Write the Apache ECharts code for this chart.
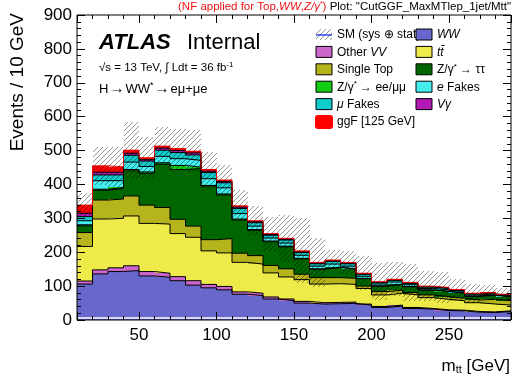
<!DOCTYPE html>
<html>
<head>
<meta charset="utf-8">
<script src="https://cdn.jsdelivr.net/npm/echarts@6/dist/echarts.min.js"></script>
<style>
  html, body { margin: 0; padding: 0; background: #fff; }
  #chart { width: 514px; height: 381px; }
</style>
</head>
<body>
<div id="chart"></div>
<script>
// bin low edges in GeV (10 GeV bins), upper edge of the last bin
const binLow = [10, 20, 30, 40, 50, 60, 70, 80, 90, 100, 110, 120, 130, 140, 150, 160, 170, 180, 190, 200, 210, 220, 230, 240, 250, 260, 270, 280];
const lastEdge = 290;

// events per bin, stacked bottom to top
const ww = [106, 136, 143, 146, 130, 126, 116, 103, 95, 89, 76, 72, 62, 57, 50, 47, 48, 49, 44, 37, 41, 34, 32, 28, 27, 23, 22, 25];
const otherVV = [9, 12, 11, 14, 13, 12, 12, 13, 10, 10, 7, 7, 6, 5, 5, 4, 4, 4, 3, 3, 3, 3, 2, 2, 2, 2, 2, 2];
const ttbar = [102, 150, 146, 147, 142, 145, 127, 128, 99, 99, 87, 86, 71, 65, 64, 55, 55, 52, 46, 34, 35, 37, 32, 31, 28, 26, 23, 17];
const singleTop = [41, 56, 57, 59, 54, 49, 42, 33, 33, 42, 27, 25, 22, 24, 16, 19, 18, 18, 7, 10, 9, 7, 8, 8, 7, 8, 14, 13];
const zTauTau = [20, 29, 31, 74, 94, 128, 147, 170, 156, 129, 98, 75, 70, 65, 45, 25, 30, 27, 22, 16, 17, 17, 14, 15, 15, 11, 12, 11];
const zEeMuMu = [3, 3, 3, 4, 4, 4, 12, 4, 4, 3, 3, 2, 2, 2, 2, 1, 1, 1, 1, 1, 1, 1, 1, 1, 1, 1, 1, 1];
const eFakes = [12, 25, 20, 22, 16, 19, 20, 20, 20, 18, 16, 10, 9, 9, 9, 8, 9, 8, 6, 5, 6, 5, 4, 4, 4, 3, 3, 3];
const muFakes = [12, 17, 17, 20, 16, 18, 18, 16, 18, 15, 15, 10, 8, 9, 8, 7, 8, 7, 6, 4, 5, 4, 4, 4, 3, 3, 3, 2];
const vGamma = [10, 8, 8, 6, 4, 6, 6, 6, 4, 4, 4, 3, 2, 2, 2, 2, 2, 2, 1, 1, 1, 1, 1, 1, 1, 1, 1, 1];
const ggF = [24, 19, 16, 9, 6, 6, 6, 5, 5, 4, 4, 3, 3, 3, 3, 2, 2, 2, 2, 2, 2, 2, 2, 2, 2, 1, 1, 1];
// SM uncertainty (sys + stat), half width of the hatched band
const smErr = [35, 56, 59, 84, 62, 57, 59, 62, 53, 44, 46, 44, 50, 69, 96, 72, 30, 35, 50, 55, 50, 55, 45, 45, 30, 28, 21, 17];

const yTicks = [0, 100, 200, 300, 400, 500, 600, 700, 800, 900];

const stackNames = ['WW', 'Other VV', 'tt\u0304', 'Single Top', 'Z/\u03b3* \u2192 \u03c4\u03c4', 'Z/\u03b3* \u2192 ee/\u03bc\u03bc', 'e Fakes', '\u03bc Fakes', 'V\u03b3', 'ggF [125 GeV]'];
const stackColors = ['#6767cc', '#cc66cc', '#eeea4a', '#b5b41c', '#006600', '#11cc11', '#44eeee', '#11cccc', '#b419b4', '#ff0000'];
const stackValues = [ww, otherVV, ttbar, singleTop, zTauTau, zEeMuMu, eFakes, muFakes, vGamma, ggF];

const FONT = 'Liberation Sans, Arial, sans-serif';
const edges = [...binLow, lastEdge];

// running sums so each component sits on the ones below it
const cumTops = [];
stackValues.forEach((vals, k) => {
  cumTops.push(vals.map((v, i) => v + (k > 0 ? cumTops[k - 1][i] : 0)));
});
const smTotal = cumTops[cumTops.length - 1];

// hatch pattern for the uncertainty band
const hatch = document.createElement('canvas');
hatch.width = 5;
hatch.height = 5;
const hctx = hatch.getContext('2d');
hctx.strokeStyle = 'rgba(0,0,0,0.42)';
hctx.lineWidth = 1;
hctx.beginPath();
hctx.moveTo(0, 5); hctx.lineTo(5, 0);
hctx.moveTo(-1, 1); hctx.lineTo(1, -1);
hctx.moveTo(4, 6); hctx.lineTo(6, 4);
hctx.stroke();
const hatchFill = { image: hatch, repeat: 'repeat' };

const chart = echarts.init(document.getElementById('chart'), null, { renderer: 'canvas' });

// one rectangle per bin, snapped to whole pixels so neighbours don't leave seams
const binRect = (fill) => (params, api) => {
  const p1 = api.coord([api.value(0), api.value(3)]);
  const p2 = api.coord([api.value(1), api.value(2)]);
  const x0 = Math.round(p1[0]);
  const x1 = Math.round(p2[0]);
  const y0 = Math.round(p1[1]);
  const y1 = Math.round(p2[1]);
  return {
    type: 'rect',
    shape: { x: x0, y: y0, width: x1 - x0, height: y1 - y0 },
    style: { fill },
  };
};

const fillSeries = stackValues.map((vals, k) => ({
  type: 'custom',
  name: stackNames[k],
  data: binLow.map((lo, i) => [lo, edges[i + 1], k > 0 ? cumTops[k - 1][i] : 0, cumTops[k][i]]),
  encode: { x: [0, 1], y: [2, 3] },
  silent: true,
  z: 2,
  renderItem: binRect(stackColors[k]),
}));

// step outline on top of each component
const outlineSeries = cumTops.map((tops, k) => ({
  type: 'line',
  name: stackNames[k] + ' outline',
  step: 'end',
  data: edges.map((x, i) => [x, tops[Math.min(i, tops.length - 1)]]),
  symbol: 'none',
  silent: true,
  lineStyle: { color: k === cumTops.length - 1 ? '#ff0000' : '#000', width: 1 },
  z: 3,
}));

const bandSeries = {
  type: 'custom',
  name: 'SM (sys \u2295 stat)',
  data: binLow.map((lo, i) => [lo, edges[i + 1], smTotal[i] - smErr[i], smTotal[i] + smErr[i]]),
  encode: { x: [0, 1], y: [2, 3] },
  silent: true,
  z: 4,
  renderItem: binRect(hatchFill),
};

// legend drawn ROOT style, two columns row by row
const legendEntries = [
  { name: 'SM (sys \u2295 stat)', kind: 'band' },
  { name: '{i|WW}', color: stackColors[0] },
  { name: 'Other {i|VV}', color: stackColors[1] },
  { name: '{i|tt\u0304}', color: stackColors[2] },
  { name: 'Single Top', color: stackColors[3] },
  { name: 'Z/\u03b3{s|*} \u2192 \u03c4\u03c4', color: stackColors[4] },
  { name: 'Z/\u03b3{s|*} \u2192 ee/\u03bc\u03bc', color: stackColors[5] },
  { name: '{i|e} Fakes', color: stackColors[6] },
  { name: '{i|\u03bc} Fakes', color: stackColors[7] },
  { name: '{i|V\u03b3}', color: stackColors[8] },
  { name: 'ggF [125 GeV]', color: stackColors[9], kind: 'signal' },
];
const legendTexts = [];
const legendBoxes = [];
legendEntries.forEach((e, idx) => {
  const col = idx % 2;
  const row = Math.floor(idx / 2);
  const bx = col === 0 ? 316 : 416;
  const cy = 35 + row * 17.4;
  legendTexts.push({
    type: 'text', x: bx + 21, y: cy, z: 20,
    style: {
      text: e.name, fill: '#000', font: '12px ' + FONT, verticalAlign: 'middle',
      rich: {
        i: { fontStyle: 'italic', fontSize: 12, fontFamily: FONT },
        s: { fontSize: 8, fontFamily: FONT, padding: [0, 0, 7, 0] },
      },
    },
  });
  if (e.kind === 'band') {
    legendBoxes.push({ type: 'rect', z: 21, shape: { x: bx, y: cy - 6, width: 16, height: 11 }, style: { fill: hatchFill } });
    legendBoxes.push({ type: 'line', z: 21, shape: { x1: bx, y1: cy, x2: bx + 16, y2: cy }, style: { stroke: '#3344ee', lineWidth: 1.5 } });
  } else if (e.kind === 'signal') {
    legendBoxes.push({ type: 'rect', z: 21, shape: { x: bx - 1, y: cy - 7, width: 18, height: 14, r: 3 }, style: { fill: e.color } });
  } else {
    legendBoxes.push({ type: 'rect', z: 21, shape: { x: bx, y: cy - 6, width: 16, height: 11 }, style: { fill: e.color, stroke: '#000', lineWidth: 1 } });
  }
});

const baseX = { type: 'value', min: 10, max: lastEdge, splitLine: { show: false }, axisLine: { show: false }, z: 10 };
const baseY = { type: 'value', min: yTicks[0], max: yTicks[yTicks.length - 1], interval: 100, splitLine: { show: false }, axisLine: { show: false }, z: 10 };

chart.setOption({
  animation: false,
  backgroundColor: '#fff',
  grid: { left: 77, top: 15, width: 434, height: 305, show: true, borderColor: '#000', borderWidth: 1, backgroundColor: 'transparent', z: 10 },
  xAxis: [
    {
      ...baseX, position: 'bottom', interval: 10,
      axisTick: { inside: true, length: 4, lineStyle: { color: '#000' } },
      axisLabel: { formatter: (v) => (v % 50 === 0 ? String(v) : ''), color: '#000', fontSize: 17, fontFamily: FONT, margin: 7 },
    },
    {
      ...baseX, position: 'bottom', splitNumber: 5,
      axisTick: { inside: true, length: 8, lineStyle: { color: '#000' } },
      axisLabel: { show: false },
    },
    { ...baseX, position: 'top', interval: 10, axisTick: { inside: true, length: 4, lineStyle: { color: '#000' } }, axisLabel: { show: false } },
    { ...baseX, position: 'top', splitNumber: 5, axisTick: { inside: true, length: 8, lineStyle: { color: '#000' } }, axisLabel: { show: false } },
    // thin white strip just above the frame, as in the original
    {
      ...baseX, position: 'bottom', offset: -2, z: 9,
      axisLine: { show: true, lineStyle: { color: '#fff', width: 1.5 } },
      axisTick: { show: false }, axisLabel: { show: false },
    },
  ],
  yAxis: [
    {
      ...baseY, position: 'left',
      axisTick: { inside: true, length: 8, lineStyle: { color: '#000' } },
      minorTick: { show: true, splitNumber: 5, length: 4, lineStyle: { color: '#000' } },
      axisLabel: { color: '#000', fontSize: 17, fontFamily: FONT, margin: 5 },
    },
    {
      ...baseY, position: 'right',
      axisTick: { inside: true, length: 8, lineStyle: { color: '#000' } },
      minorTick: { show: true, splitNumber: 5, length: 4, lineStyle: { color: '#000' } },
      axisLabel: { show: false },
    },
  ],
  series: [...fillSeries, ...outlineSeries, bandSeries],
  graphic: [
    {
      type: 'text', x: 511, y: 7,
      style: {
        text: '{r|(NF applied for Top,}{ri|WW}{r|,}{ri|Z/\u03b3}{rs|*}{r|)} Plot: "CutGGF_MaxMTlep_1jet/Mtt"',
        align: 'right', verticalAlign: 'middle', fill: '#000', font: '11.5px ' + FONT,
        rich: {
          r: { fill: '#ee1111', fontSize: 11.5, fontFamily: FONT },
          ri: { fill: '#ee1111', fontSize: 11.5, fontFamily: FONT, fontStyle: 'italic' },
          rs: { fill: '#ee1111', fontSize: 7, fontFamily: FONT, padding: [0, 0, 6, 0] },
        },
      },
    },
    {
      type: 'text', x: 8, y: 13, rotation: Math.PI / 2,
      style: { text: 'Events / 10 GeV', align: 'right', verticalAlign: 'top', fill: '#000', font: '19px ' + FONT },
    },
    {
      type: 'text', x: 510, y: 366,
      style: {
        text: 'm{sub|tt} [GeV]', align: 'right', verticalAlign: 'middle', fill: '#000', font: '17px ' + FONT,
        rich: { sub: { fontSize: 11, fontFamily: FONT, padding: [8, 0, 0, 0] } },
      },
    },
    { type: 'text', x: 99, y: 43, style: { text: 'ATLAS', fill: '#000', font: 'italic bold 22px ' + FONT, verticalAlign: 'middle' } },
    { type: 'text', x: 187, y: 43, style: { text: 'Internal', fill: '#000', font: '22px ' + FONT, verticalAlign: 'middle' } },
    {
      type: 'text', x: 99, y: 68,
      style: {
        text: '\u221As = 13 TeV, \u222B Ldt = 36 fb{s|-1}', fill: '#000', font: '11.5px ' + FONT, verticalAlign: 'middle',
        rich: { s: { fontSize: 8, fontFamily: FONT, padding: [0, 0, 7, 0] } },
      },
    },
    {
      type: 'text', x: 99, y: 89,
      style: {
        text: 'H{a|\u2192}WW{s|*}{a|\u2192}e\u03bc+\u03bce', fill: '#000', font: '13px ' + FONT, verticalAlign: 'middle',
        rich: {
          s: { fontSize: 9, fontFamily: FONT, padding: [0, 0, 7, 0] },
          a: { fontSize: 15, fontFamily: FONT, padding: [0, 1, 0, 1] },
        },
      },
    },
    ...legendTexts,
    ...legendBoxes,
  ],
});
</script>
</body>
</html>
